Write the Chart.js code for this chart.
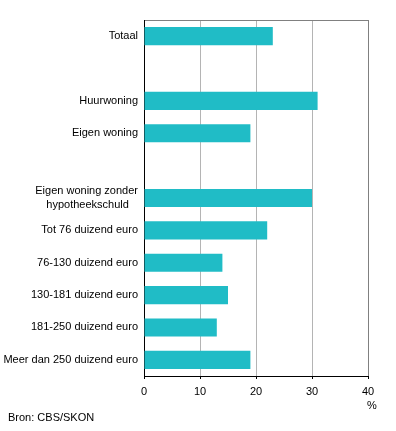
<!DOCTYPE html>
<html>
<head>
<meta charset="utf-8">
<script src="https://cdn.jsdelivr.net/npm/chart.js@4"></script>
<style>
  body { margin: 0; background: #fff; }
</style>
</head>
<body>
<canvas id="chart" width="396" height="431"></canvas>
<script>
// categories (empty strings are the spacer rows)
const categories = [
  'Totaal',
  '',
  'Huurwoning',
  'Eigen woning',
  '',
  ['Eigen woning zonder', 'hypotheekschuld   '],
  'Tot 76 duizend euro',
  '76-130 duizend euro',
  '130-181 duizend euro',
  '181-250 duizend euro',
  'Meer dan 250 duizend euro'
];
const values = [23, null, 31, 19, null, 30, 22, 14, 15, 13, 19];
const xTicks = [0, 10, 20, 30, 40];
const unitLabel = '%';
const sourceText = 'Bron: CBS/SKON';

const FONT = "'Liberation Sans', Arial, sans-serif";
Chart.defaults.font.family = FONT;
Chart.defaults.font.size = 11;
Chart.defaults.color = '#000';

const ctx = document.getElementById('chart').getContext('2d');

// extra text under the axis
const footerText = {
  id: 'footerText',
  afterDraw(chart) {
    const c = chart.ctx;
    const xs = chart.scales.x;
    c.save();
    c.fillStyle = '#000';
    c.font = '11px ' + FONT;
    c.textBaseline = 'middle';
    c.textAlign = 'center';
    c.fillText(unitLabel, xs.right + 4, 406);
    c.textAlign = 'left';
    c.fillText(sourceText, 8, 418);
    c.restore();
  }
};

new Chart(ctx, {
  type: 'bar',
  data: {
    labels: categories,
    datasets: [{
      data: values,
      backgroundColor: '#20bcc6',
      borderWidth: 0,
      barPercentage: 0.56,
      categoryPercentage: 1
    }]
  },
  options: {
    indexAxis: 'y',
    responsive: false,
    animation: false,
    layout: { padding: { left: 0, right: 28, top: 20, bottom: 0 } },
    plugins: {
      legend: { display: false },
      tooltip: { enabled: false }
    },
    scales: {
      x: {
        position: 'bottom',
        min: 0,
        max: 40,
        afterBuildTicks(scale) {
          scale.ticks = xTicks.map(v => ({ value: v }));
        },
        afterFit(scale) { scale.height = 55; },
        grid: {
          color(c) {
            if (c.tick.value === 0) return 'rgba(0,0,0,0)';
            if (c.tick.value === 40) return '#808080';
            return '#b4b4b4';
          },
          tickColor: '#000',
          tickLength: 3
        },
        border: { color: '#000', width: 1 },
        ticks: { padding: 6, maxRotation: 0 }
      },
      xTop: {
        position: 'top',
        axis: 'x',
        min: 0,
        max: 40,
        afterFit(scale) { scale.height = 0; },
        grid: { display: false },
        ticks: { display: false },
        border: { color: '#808080', width: 1 }
      },
      y: {
        afterFit(scale) { scale.width = 144; },
        grid: { display: false, drawTicks: false, tickLength: 0 },
        border: { color: '#000', width: 1 },
        ticks: {
          padding: 6,
          autoSkip: false,
          font: { size: 11, lineHeight: 1.3 }
        }
      }
    }
  },
  plugins: [footerText]
});
</script>
</body>
</html>
